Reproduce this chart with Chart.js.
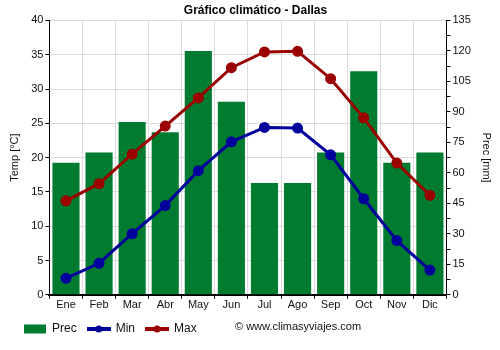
<!DOCTYPE html>
<html>
<head>
<meta charset="utf-8">
<script src="https://cdn.jsdelivr.net/npm/chart.js@4/dist/chart.umd.min.js"></script>
<style>
  html, body { margin: 0; padding: 0; background: #fff; }
  #wrap { width: 500px; height: 350px; }
</style>
</head>
<body>
<div id="wrap"><canvas id="chart"></canvas></div>
<script>
const months = ['Ene', 'Feb', 'Mar', 'Abr', 'May', 'Jun', 'Jul', 'Ago', 'Sep', 'Oct', 'Nov', 'Dic'];
const prec = [65, 70, 85, 80, 120, 95, 55, 55, 70, 110, 65, 70];
const tMin = [2.4, 4.6, 8.9, 13.0, 18.1, 22.3, 24.4, 24.3, 20.4, 14.0, 7.9, 3.6];
const tMax = [13.7, 16.2, 20.5, 24.6, 28.7, 33.1, 35.4, 35.5, 31.5, 25.8, 19.2, 14.5];

const GREEN = 'rgb(0,123,48)';
const BLUE = 'rgb(0,0,155)';
const RED = 'rgb(155,0,0)';
const FONT = 'Liberation Sans, Arial, sans-serif';

Chart.defaults.font.family = FONT;
Chart.defaults.font.size = 11;
Chart.defaults.color = '#111';

// small line-with-dot symbol for the legend
function lineMarker(color) {
    const cv = document.createElement('canvas');
    cv.width = 24;
    cv.height = 10;
    const c = cv.getContext('2d');
    c.strokeStyle = color;
    c.fillStyle = color;
    c.lineWidth = 4;
    c.beginPath();
    c.moveTo(0, 5);
    c.lineTo(24, 5);
    c.stroke();
    c.beginPath();
    c.arc(12, 5, 3.5, 0, Math.PI * 2);
    c.fill();
    return cv;
}

// site credit drawn next to the legend
const creditText = {
    id: 'creditText',
    afterDraw(chart) {
        const c = chart.ctx;
        c.save();
        c.font = '11px ' + FONT;
        c.fillStyle = '#111';
        c.textBaseline = 'middle';
        c.fillText('© www.climasyviajes.com', 235, 327);
        c.restore();
    }
};

new Chart(document.getElementById('chart'), {
    data: {
        labels: months,
        datasets: [
            {
                type: 'line',
                label: 'Min',
                data: tMin,
                yAxisID: 'yTemp',
                borderColor: BLUE,
                backgroundColor: BLUE,
                borderWidth: 3,
                pointRadius: 4,
                pointHoverRadius: 4,
                tension: 0,
                order: 1
            },
            {
                type: 'line',
                label: 'Max',
                data: tMax,
                yAxisID: 'yTemp',
                borderColor: RED,
                backgroundColor: RED,
                borderWidth: 3,
                pointRadius: 4,
                pointHoverRadius: 4,
                tension: 0,
                order: 0
            },
            {
                type: 'bar',
                label: 'Prec',
                data: prec,
                yAxisID: 'yPrec',
                backgroundColor: GREEN,
                barPercentage: 0.82,
                categoryPercentage: 1,
                order: 2
            }
        ]
    },
    options: {
        responsive: true,
        maintainAspectRatio: false,
        animation: false,
        layout: { padding: { left: 13, right: 2, top: 0, bottom: 5 } },
        plugins: {
            title: {
                display: true,
                text: 'Gráfico climático - Dallas',
                font: { size: 12, weight: 'bold' },
                color: '#000',
                padding: { top: 3, bottom: 3 }
            },
            legend: {
                position: 'bottom',
                align: 'start',
                labels: {
                    usePointStyle: true,
                    pointStyleWidth: 22,
                    boxHeight: 9,
                    padding: 11,
                    color: '#111',
                    font: { size: 12 },
                    sort: (a, b) => (a.text === 'Prec' ? -1 : b.text === 'Prec' ? 1 : a.datasetIndex - b.datasetIndex),
                    generateLabels(chart) {
                        return chart.data.datasets.map((ds, i) => ({
                            text: ds.label,
                            datasetIndex: i,
                            fillStyle: ds.type === 'bar' ? GREEN : ds.borderColor,
                            strokeStyle: ds.type === 'bar' ? GREEN : ds.borderColor,
                            lineWidth: 0,
                            pointStyle: ds.type === 'bar' ? 'rect' : lineMarker(ds.borderColor),
                            fontColor: '#111'
                        }));
                    }
                }
            },
            tooltip: { enabled: false }
        },
        scales: {
            x: {
                grid: { color: '#dcdcdc', tickColor: '#000', tickLength: 4, offset: true },
                border: { color: '#000', width: 2 },
                ticks: { color: '#111', padding: 0, font: { size: 11 } }
            },
            yTemp: {
                position: 'left',
                min: 0,
                max: 40,
                ticks: { stepSize: 5, color: '#111', padding: 2, font: { size: 11 } },
                grid: { color: '#dcdcdc', tickColor: '#000', tickLength: 4 },
                border: { color: '#000', width: 1 },
                title: { display: true, text: 'Temp [°C]', color: '#111', font: { size: 11 }, padding: { top: -5, bottom: 8 } }
            },
            yPrec: {
                position: 'right',
                min: 0,
                max: 135,
                ticks: {
                    stepSize: 7.5,
                    color: '#111',
                    padding: 2,
                    font: { size: 11 },
                    autoSkip: false,
                    callback: v => (v % 15 === 0 ? v : '')
                },
                grid: { drawOnChartArea: false, tickColor: '#000', tickLength: 4 },
                border: { color: '#000', width: 1 },
                title: { display: true, text: 'Prec [mm]', color: '#111', font: { size: 11 }, padding: { top: 5, bottom: 7 } }
            }
        }
    },
    plugins: [creditText]
});
</script>
</body>
</html>
